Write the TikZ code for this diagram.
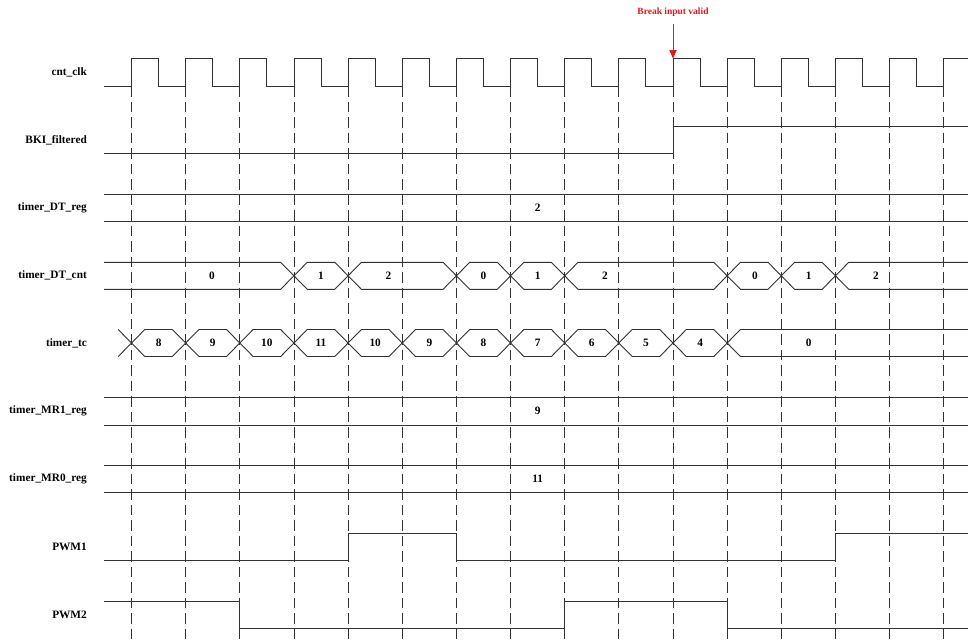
\documentclass[tikz,border=0pt]{standalone}
\usepackage{fontspec}
\setmainfont{Liberation Serif}
\usetikzlibrary{arrows.meta}
\definecolor{annred}{RGB}{225,25,25}
\definecolor{sigcol}{RGB}{50,50,50}
\begin{document}
\begin{tikzpicture}[x=1pt,y=-1pt,
  sig/.style={draw=sigcol,line width=0.9pt},
  gridline/.style={draw=sigcol,line width=0.8pt,dash pattern=on 10.5pt off 5pt},
  lbl/.style={font=\bfseries\fontsize{11.3}{13}\selectfont,anchor=east,inner sep=0pt},
  val/.style={font=\bfseries\fontsize{11.3}{13}\selectfont,inner sep=0pt},
  ann/.style={text=annred,font=\bfseries\fontsize{9.5}{11}\selectfont,inner sep=0pt}]
\useasboundingbox (0,0) rectangle (968,640);
\fill[white] (0,0) rectangle (968,640);
\def\xo{131.5}
\def\per{54.15}
\def\hw{13.3}
% grid
\foreach \k in {0,...,15}
  \draw[gridline] ({\xo+\per*\k},86) -- ({\xo+\per*\k},640);
% labels
\node[lbl] (l0) at (87,72.3) {cnt\_clk};
\node[lbl] (l1) at (87,140) {BKI\_filtered};
\node[lbl] (l2) at (87,207.8) {timer\_DT\_reg};
\node[lbl] (l3) at (87,275.8) {timer\_DT\_cnt};
\node[lbl] (l4) at (87,343) {timer\_tc};
\node[lbl] (l5) at (87,411.3) {timer\_MR1\_reg};
\node[lbl] (l6) at (87,479.2) {timer\_MR0\_reg};
\node[lbl] (l7) at (87,547.2) {PWM1};
\node[lbl] (l8) at (87,614.8) {PWM2};
% clock
\draw[sig] (104,86) foreach \k in {0,...,14}{
   -- ({\xo+\per*\k},86) -- ({\xo+\per*\k},58.7)
   -- ({\xo+\per*\k+\per/2},58.7) -- ({\xo+\per*\k+\per/2},86)}
   -- ({\xo+\per*15},86) -- ({\xo+\per*15},58.7) -- (968,58.7);
% BKI_filtered
\draw[sig] (104,153) -- ({\xo+\per*10},153) -- ({\xo+\per*10},126) -- (968,126);
% timer_DT_reg
\draw[sig] (104,194.3) -- (968,194.3);
\draw[sig] (104,221.3) -- (968,221.3);
\node[val] (v2) at (537.7,207.8) {2};
% timer_DT_cnt
\draw[sig] (104,262.3) foreach \k in {3,4,6,7,8,11,12,13}{
   -- ({\xo+\per*\k-\hw},262.3) -- ({\xo+\per*\k},275.8) -- ({\xo+\per*\k+\hw},262.3)} -- (968,262.3);
\draw[sig] (104,289.3) foreach \k in {3,4,6,7,8,11,12,13}{
   -- ({\xo+\per*\k-\hw},289.3) -- ({\xo+\per*\k},275.8) -- ({\xo+\per*\k+\hw},289.3)} -- (968,289.3);
\foreach \xx/\vv [count=\i] in {212/0,321/1,388.5/2,483.5/0,537.7/1,605/2,755/0,808.6/1,876/2}
  \node[val] (c\i) at (\xx,275.8) {\vv};
% timer_tc
\draw[sig] ({\xo-\hw},329.5) foreach \k in {0,...,11}{
   -- ({\xo+\per*\k},343) -- ({\xo+\per*\k+\hw},329.5) -- ({\xo+\per*\k+\per-\hw},329.5)} -- (968,329.5);
\draw[sig] ({\xo-\hw},356.5) foreach \k in {0,...,11}{
   -- ({\xo+\per*\k},343) -- ({\xo+\per*\k+\hw},356.5) -- ({\xo+\per*\k+\per-\hw},356.5)} -- (968,356.5);
\foreach \vv [count=\i from 0] in {8,9,10,11,10,9,8,7,6,5,4}
  \node[val] (t\i) at ({\xo+\per*\i+\per/2},343) {\vv};
\node[val] (t11) at (808.6,343) {0};
% timer_MR1_reg
\draw[sig] (104,397.7) -- (968,397.7);
\draw[sig] (104,425) -- (968,425);
\node[val] (v5) at (537.7,411.3) {9};
% timer_MR0_reg
\draw[sig] (104,465.7) -- (968,465.7);
\draw[sig] (104,492.7) -- (968,492.7);
\node[val] (v6) at (537.7,479.2) {11};
% PWM1
\draw[sig] (104,560.7) -- ({\xo+\per*4},560.7) -- ({\xo+\per*4},533.7)
  -- ({\xo+\per*6},533.7) -- ({\xo+\per*6},560.7)
  -- ({\xo+\per*13},560.7) -- ({\xo+\per*13},533.7) -- (968,533.7);
% PWM2
\draw[sig] (104,601.3) -- ({\xo+\per*2},601.3) -- ({\xo+\per*2},628.3)
  -- ({\xo+\per*8},628.3) -- ({\xo+\per*8},601.3)
  -- ({\xo+\per*11},601.3) -- ({\xo+\per*11},628.3) -- (968,628.3);
% annotation
\node[ann] (bk) at ({\xo+\per*10},12) {Break input valid};
\coordinate (bkfrom) at ({\xo+\per*10},24);
\coordinate (bktip) at ({\xo+\per*10},58.7);
\draw[annred,line width=1pt,-{Triangle[length=8.5pt,width=7pt]}] (bkfrom) -- (bktip);
\end{tikzpicture}
\end{document}
